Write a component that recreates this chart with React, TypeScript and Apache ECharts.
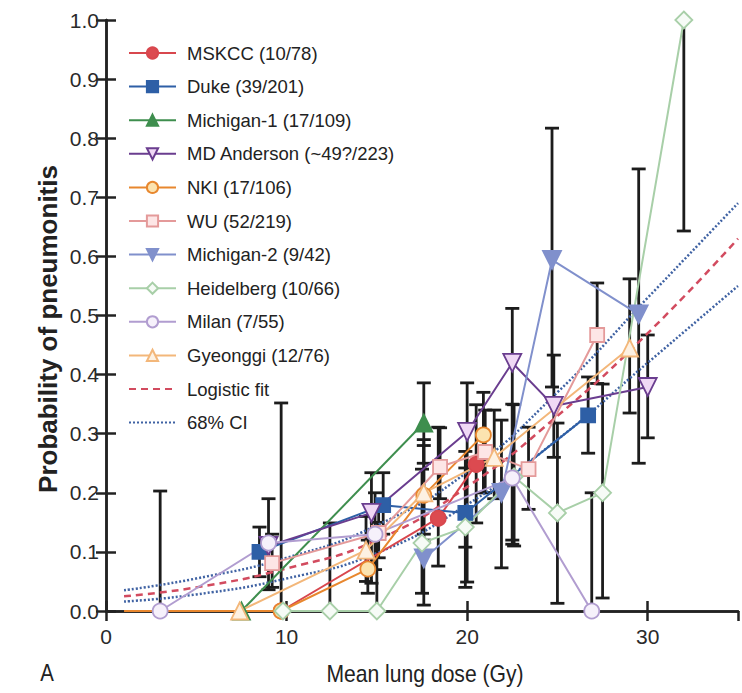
import React, { useEffect, useRef } from "react";
import * as echarts from "echarts";

// ---- data ----
const mskccX = [9.7, 18.4, 20.5];
const mskccY = [0, 0.157, 0.248];
const mskccLo = [0, 0.076, 0.149];
const mskccHi = [0.352, 0.311, 0.349];

const dukeX = [8.5, 15.35, 19.9, 26.7];
const dukeY = [0.1, 0.179, 0.166, 0.331];
const dukeLo = [0.058, 0.13, 0.108, 0.267];
const dukeHi = [0.142, 0.234, 0.242, 0.396];

const mich1X = [7.5, 17.6];
const mich1Y = [0, 0.318];
const mich1Lo = [null, 0.25];
const mich1Hi = [null, 0.386];

const mdaX = [9.0, 14.7, 20.0, 22.5, 24.8, 30.0];
const mdaY = [0.11, 0.166, 0.303, 0.42, 0.347, 0.379];
const mdaLo = [null, 0.047, 0.049, 0.113, 0.26, 0.293];
const mdaHi = [null, 0.234, 0.386, 0.512, 0.433, 0.467];

const nkiX = [1.0, 9.7, 14.5, 17.6, 20.9];
const nkiY = [0, 0, 0.071, 0.196, 0.298];
const nkiLo = [null, null, 0.03, 0.12, 0.2];
const nkiHi = [null, null, 0.12, 0.29, 0.37];

const wuX = [9.2, 15.1, 18.5, 21.0, 23.4, 27.2];
const wuY = [0.081, 0.132, 0.244, 0.269, 0.24, 0.467];
const wuLo = [0.04, 0.09, 0.19, 0.2, 0.172, 0.385];
const wuHi = [0.13, 0.18, 0.31, 0.34, 0.311, 0.555];

const mich2X = [17.6, 21.9, 24.7, 29.5];
const mich2Y = [0.089, 0.2, 0.594, 0.502];
const mich2Lo = [0.01, 0.073, 0.379, 0.25];
const mich2Hi = [0.2, 0.323, 0.817, 0.748];

const heidX = [9.8, 12.4, 15.0, 17.5, 19.9, 22.6, 25.0, 27.5, 32.0];
const heidY = [0, 0, 0, 0.115, 0.142, 0.227, 0.166, 0.2, 1.0];
const heidLo = [null, 0, 0, 0.03, 0.04, 0.11, 0.013, 0.022, 0.643];
const heidHi = [null, 0.149, 0.15, 0.24, 0.27, 0.349, 0.318, 0.384, 1.0];

const milanX = [3.0, 9.0, 14.9, 22.5, 26.9];
const milanY = [0, 0.115, 0.13, 0.225, 0];
const milanLo = [0, 0.036, 0.07, 0.12, 0];
const milanHi = [0.203, 0.19, 0.2, 0.35, 0.2];

const gyeoX = [7.4, 14.4, 17.6, 21.5, 29.0];
const gyeoY = [0, 0.103, 0.2, 0.26, 0.445];
const gyeoLo = [null, 0.05, 0.13, 0.19, 0.335];
const gyeoHi = [null, 0.16, 0.28, 0.34, 0.562];

const fitX = [1, 5, 10, 15, 20, 25, 30, 35];
const fitY = [0.025, 0.04, 0.072, 0.12, 0.21, 0.33, 0.47, 0.63];
const ciHiY = [0.035, 0.055, 0.09, 0.145, 0.235, 0.37, 0.53, 0.69];
const ciLoY = [0.016, 0.028, 0.055, 0.098, 0.18, 0.29, 0.42, 0.55];

const xTicks = [0, 10, 20, 30];
const yTicks = [0, 0.1, 0.2, 0.3, 0.4, 0.5, 0.6, 0.7, 0.8, 0.9, 1.0];

const SANS = '"Liberation Sans", Arial, sans-serif';

type S = {
  name: string;
  xs: number[];
  ys: number[];
  lo: (number | null)[];
  hi: (number | null)[];
  line: string;
  fill: string;
  symbol: string;
  size: number;
  rotate?: number;
};

const groups: S[] = [
  { name: "MSKCC (10/78)", xs: mskccX, ys: mskccY, lo: mskccLo, hi: mskccHi, line: "#d8474e", fill: "#dc4a50", symbol: "circle", size: 15 },
  { name: "Duke (39/201)", xs: dukeX, ys: dukeY, lo: dukeLo, hi: dukeHi, line: "#2e5fa6", fill: "#2e5fa6", symbol: "rect", size: 14 },
  { name: "Michigan-1 (17/109)", xs: mich1X, ys: mich1Y, lo: mich1Lo, hi: mich1Hi, line: "#3e8e4e", fill: "#3e8e4e", symbol: "triangle", size: 17 },
  { name: "MD Anderson (~49?/223)", xs: mdaX, ys: mdaY, lo: mdaLo, hi: mdaHi, line: "#6a3d8f", fill: "#f0d8f5", symbol: "triangle", size: 18, rotate: 180 },
  { name: "NKI (17/106)", xs: nkiX, ys: nkiY, lo: nkiLo, hi: nkiHi, line: "#e8872e", fill: "#fbe3b0", symbol: "circle", size: 15 },
  { name: "WU (52/219)", xs: wuX, ys: wuY, lo: wuLo, hi: wuHi, line: "#e49a9a", fill: "#fde6e6", symbol: "rect", size: 14 },
  { name: "Michigan-2 (9/42)", xs: mich2X, ys: mich2Y, lo: mich2Lo, hi: mich2Hi, line: "#8090cc", fill: "#8090cc", symbol: "triangle", size: 18, rotate: 180 },
  { name: "Heidelberg (10/66)", xs: heidX, ys: heidY, lo: heidLo, hi: heidHi, line: "#a8cfa8", fill: "#f6fbf6", symbol: "diamond", size: 17 },
  { name: "Milan (7/55)", xs: milanX, ys: milanY, lo: milanLo, hi: milanHi, line: "#b19dd0", fill: "#f6f1fb", symbol: "circle", size: 15 },
  { name: "Gyeonggi (12/76)", xs: gyeoX, ys: gyeoY, lo: gyeoLo, hi: gyeoHi, line: "#f3b77a", fill: "#fdf1e2", symbol: "triangle", size: 17 },
];

export default function App() {
  const ref = useRef<HTMLDivElement>(null);
  useEffect(() => {
    if (!ref.current) return;
    const chart = echarts.init(ref.current, undefined, { renderer: "svg" });

    const errData: number[][] = [];
    groups.forEach((g) => {
      g.xs.forEach((x, i) => {
        const lo = g.lo[i];
        const hi = g.hi[i];
        if (lo !== null && hi !== null && hi > lo) errData.push([x, lo as number, hi as number]);
      });
    });

    const axisLine = { show: true, lineStyle: { color: "#222", width: 2.5 } };
    const tick = { show: true, inside: true, length: 10, lineStyle: { color: "#222", width: 2.5 } };

    const dataSeries: any[] = groups.map((g) => ({
      name: g.name,
      type: "line",
      xAxisIndex: 0,
      yAxisIndex: 0,
      data: g.xs.map((x, i) =>
        g.name.startsWith("NKI") && i === 0 ? { value: [x, g.ys[i]], symbol: "none" } : [x, g.ys[i]]
      ),
      symbol: g.symbol,
      symbolSize: g.size,
      symbolRotate: g.rotate || 0,
      showAllSymbol: true,
      lineStyle: { color: g.line, width: 2 },
      itemStyle: { color: g.fill, borderColor: g.line, borderWidth: 1.8 },
      clip: false,
      z: 3,
    }));

    const noMark = { color: "rgba(0,0,0,0)", borderColor: "rgba(0,0,0,0)", borderWidth: 0 };
    const fitSeries: any[] = [
      {
        name: "Logistic fit",
        type: "line",
        data: fitX.map((x, i) => [x, fitY[i]]),
        smooth: true,
        symbol: "none",
        lineStyle: { color: "#d24b5f", width: 2.5, type: [7, 5] },
        itemStyle: noMark,
        z: 2,
      },
      {
        name: "68% CI",
        type: "line",
        data: fitX.map((x, i) => [x, ciHiY[i]]),
        smooth: true,
        symbol: "none",
        lineStyle: { color: "#3f62a3", width: 2.5, type: [2, 2] },
        itemStyle: noMark,
        z: 2,
      },
      {
        name: "68% CI",
        type: "line",
        data: fitX.map((x, i) => [x, ciLoY[i]]),
        smooth: true,
        symbol: "none",
        lineStyle: { color: "#3f62a3", width: 2.5, type: [2, 2] },
        itemStyle: noMark,
        z: 2,
      },
    ];

    const errSeries = {
      type: "custom",
      xAxisIndex: 0,
      yAxisIndex: 0,
      data: errData,
      encode: { x: 0, y: [1, 2] },
      clip: false,
      z: 1,
      renderItem: (params: any, api: any) => {
        const x = api.value(0);
        const top = api.coord([x, api.value(2)]);
        const bot = api.coord([x, api.value(1)]);
        const w = 7;
        const style = { stroke: "#1c1c1c", lineWidth: 2.8, fill: "none" };
        return {
          type: "group",
          children: [
            { type: "line", shape: { x1: top[0], y1: top[1], x2: bot[0], y2: bot[1] }, style },
            { type: "line", shape: { x1: top[0] - w, y1: top[1], x2: top[0] + w, y2: top[1] }, style },
            { type: "line", shape: { x1: bot[0] - w, y1: bot[1], x2: bot[0] + w, y2: bot[1] }, style },
          ],
        };
      },
    };

    chart.setOption({
      animation: false,
      backgroundColor: "#ffffff",
      grid: { left: 106, right: 4, top: 20, bottom: 82, containLabel: false },
      legend: {
        data: groups.map((g) => g.name).concat(["Logistic fit", "68% CI"]),
        orient: "vertical",
        left: 128,
        top: 42,
        padding: 0,
        itemWidth: 47,
        itemHeight: 14,
        itemGap: 11.6,
        selectedMode: false,
        textStyle: { fontFamily: SANS, fontSize: 18.5, color: "#222", lineHeight: 22, padding: [0, 0, 0, 6] },
      },
      xAxis: [
        {
          type: "value",
          min: 0,
          max: 35,
          interval: 10,
          position: "bottom",
          axisLine,
          axisTick: tick,
          splitLine: { show: false },
          axisLabel: {
            showMaxLabel: false,
            fontFamily: SANS,
            fontSize: 21,
            color: "#2a2a2a",
            margin: 15,
            formatter: (v: number) => (xTicks.includes(v) ? String(v) : ""),
          },
        },
        {
          type: "value",
          min: 0,
          max: 35,
          interval: 10,
          position: "top",
          axisLine,
          axisTick: tick,
          splitLine: { show: false },
          axisLabel: { show: false },
        },
      ],
      yAxis: [
        {
          type: "value",
          min: 0,
          max: 1,
          interval: 0.1,
          position: "left",
          axisLine,
          axisTick: tick,
          splitLine: { show: false },
          axisLabel: {
            fontFamily: SANS,
            fontSize: 21,
            color: "#2a2a2a",
            margin: 7,
            formatter: (v: number) => {
              const r = Math.round(v * 10) / 10;
              return yTicks.includes(r) ? r.toFixed(1) : "";
            },
          },
        },
        {
          type: "value",
          min: 0,
          max: 1,
          interval: 0.1,
          position: "right",
          axisLine,
          axisTick: tick,
          splitLine: { show: false },
          axisLabel: { show: false },
        },
      ],
      graphic: [
        {
          type: "text",
          x: 48,
          y: 329,
          rotation: Math.PI / 2,
          style: {
            text: "Probability of pneumonitis",
            font: `bold 26px ${SANS}`,
            fill: "#222",
            align: "center",
            verticalAlign: "middle",
          },
        },
        {
          type: "text",
          x: 425,
          y: 674,
          scaleX: 0.88,
          style: {
            text: "Mean lung dose (Gy)",
            font: `24px ${SANS}`,
            fill: "#222",
            align: "center",
            verticalAlign: "middle",
          },
        },
        {
          type: "text",
          x: 47,
          y: 673,
          scaleX: 0.85,
          style: {
            text: "A",
            font: `24px ${SANS}`,
            fill: "#222",
            align: "center",
            verticalAlign: "middle",
          },
        },
      ],
      series: [errSeries, ...fitSeries, ...dataSeries],
    });

    return () => chart.dispose();
  }, []);

  return (
    <div
      ref={ref}
      style={{ position: "fixed", left: 0, top: 0, width: 742, height: 693, background: "#fff" }}
    />
  );
}
